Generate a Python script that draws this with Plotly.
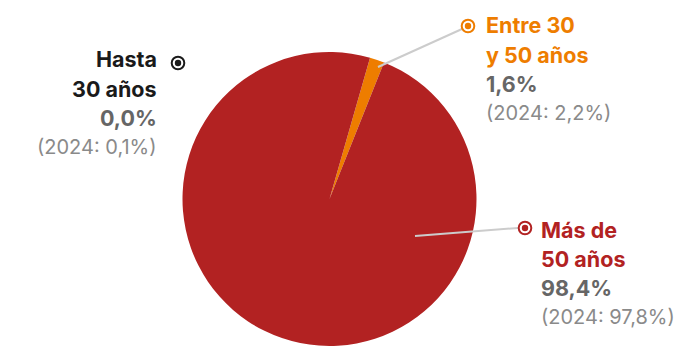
import plotly.graph_objects as go

W, H = 697, 346
OFF = 8  # page body margin

categories = ["Hasta 30 años", "Entre 30 y 50 años", "Más de 50 años"]
values_2025 = [0.0, 1.6, 98.4]
values_2024 = [0.1, 2.2, 97.8]
label_lines = [["Hasta", "30 años"], ["Entre 30", "y 50 años"], ["Más de", "50 años"]]
colors = ["#1a1a1a", "#EE7D00", "#B22222"]

def fmt(v):
    return f"{v:.1f}".replace(".", ",") + "%"

def px(x, y):
    return (x - OFF) / W, 1 - (y - OFF) / H

fig = go.Figure()
dx0, dy1 = px(182.5, 52)
dx1, dy0 = px(476.5, 346)
fig.add_trace(go.Pie(
    labels=categories, values=values_2025, sort=False, direction="clockwise",
    rotation=16, marker=dict(colors=colors, line=dict(width=0)),
    textinfo="none", hoverinfo="label+percent", showlegend=False,
    domain=dict(x=[dx0, dx1], y=[dy0, dy1]),
))

FONT = "Inter"
ann = []
shapes = []

layout_spec = [
    (159, "right", 67, (178, 63), None),
    (484, "left", 33, (468, 26), (378, 67)),
    (539, "left", 237, (525, 228), (415, 236)),
]
LH = 29
for i, (ax_, xa, y0, mk, start) in enumerate(layout_spec):
    lines = [(f"<b>{label_lines[i][0]}</b>", colors[i], 21.5),
             (f"<b>{label_lines[i][1]}</b>", colors[i], 21.5),
             (f"<b>{fmt(values_2025[i])}</b>", "#666666", 21.5),
             (f"(2024: {fmt(values_2024[i])})", "#8a8a8a", 20)]
    for j, (t, c, s) in enumerate(lines):
        bx, by = px(ax_, y0 + j * LH - 7.5)
        ann.append(dict(text=t, x=bx, y=by, xref="paper", yref="paper", xanchor=xa,
                        yanchor="middle", showarrow=False,
                        font=dict(family=FONT, size=s, color=c)))
    cx, cy = mk
    mcol = colors[i]
    if start is not None:
        sx, sy = px(*start)
        ex, ey = px(cx - 7 if i == 2 else cx - 6, cy + (0 if i == 2 else 3))
        shapes.append(dict(type="line", xref="paper", yref="paper", x0=sx, y0=sy, x1=ex, y1=ey,
                           line=dict(color="#cccccc", width=2)))
    r1, r2 = 6.3, 3.2
    x0, y0p = px(cx - r1, cy + r1); x1, y1p = px(cx + r1, cy - r1)
    shapes.append(dict(type="circle", xref="paper", yref="paper", x0=x0, y0=y0p, x1=x1, y1=y1p,
                       line=dict(color=mcol, width=2), fillcolor="white"))
    x0, y0p = px(cx - r2, cy + r2); x1, y1p = px(cx + r2, cy - r2)
    shapes.append(dict(type="circle", xref="paper", yref="paper", x0=x0, y0=y0p, x1=x1, y1=y1p,
                       line=dict(width=0), fillcolor=mcol))

fig.update_layout(width=W, height=H, margin=dict(l=0, r=0, t=0, b=0),
                  paper_bgcolor="white", plot_bgcolor="white",
                  annotations=ann, shapes=shapes)
fig.write_html("out.html")
